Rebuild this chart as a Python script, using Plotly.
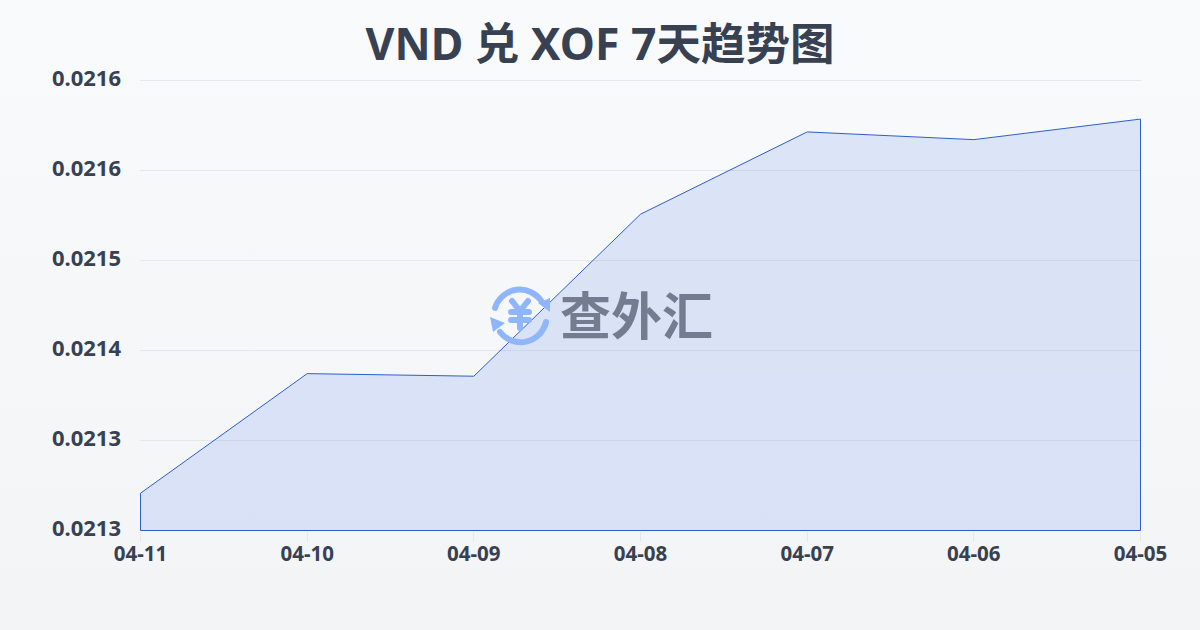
import base64
import plotly.graph_objects as go

dates = ["04-11", "04-10", "04-09", "04-08", "04-07", "04-06", "04-05"]
rates = [0.021309, 0.021402, 0.021400, 0.021526, 0.021590, 0.021584, 0.021600]
y_ticks = [0.02128, 0.02135, 0.02142, 0.02149, 0.02156, 0.02163]
y_labels = ["0.0213", "0.0213", "0.0214", "0.0215", "0.0216", "0.0216"]
title = "VND 兑 XOF 7天趋势图"
watermark = "查外汇"

W, H = 1200, 630
INK = "#374151"
BLUE = "#2b5fc7"
L, R, T, B = 140, 59, 80, 99
PW, PH = W - L - R, H - T - B
x_pad = (len(dates) - 1) / (2 * (PW - 1))
y_pad = (y_ticks[-1] - y_ticks[0]) / (2 * (PH - 1))


def px(x):
    return (x - L) / PW


def py(y):
    return (H - B - y) / PH


svg = f'''<svg xmlns="http://www.w3.org/2000/svg" width="{W}" height="{H}"><defs><linearGradient id="g" x1="0" y1="0" x2="0" y2="1"><stop offset="0" stop-color="#f9fafc"/><stop offset="1" stop-color="#f3f4f6"/></linearGradient></defs><rect width="{W}" height="{H}" fill="url(#g)"/></svg>'''
bg = "data:image/svg+xml;base64," + base64.b64encode(svg.encode()).decode()

logo = f'''<svg xmlns="http://www.w3.org/2000/svg" width="64" height="64" viewBox="0 0 64 64"><g fill="none" stroke="#8fb6fb" stroke-width="6" stroke-linecap="round"><path d="M7 25 A26 26 0 0 1 54 19"/><path d="M58 39 A26 26 0 0 1 12 49"/></g><g fill="#8fb6fb"><path d="M50 20 L62 15 L62 29 Z"/><path d="M2 34 L17 40 L5 49 Z"/></g><g fill="none" stroke="#8fb6fb" stroke-width="6" stroke-linecap="round"><path d="M24 18 L32 28 L40 18"/><path d="M23 29 H41"/><path d="M23 37 H41"/><path d="M32 28 V45"/></g></svg>'''
logo_uri = "data:image/svg+xml;base64," + base64.b64encode(logo.encode()).decode()

fig = go.Figure()
fig.add_trace(go.Scatter(
    x=dates + [dates[-1], dates[0], dates[0]],
    y=rates + [y_ticks[0], y_ticks[0], rates[0]],
    mode="lines", fill="toself", fillcolor="rgba(37,99,235,0.135)",
    line=dict(color=BLUE, width=1), hoverinfo="skip", showlegend=False, cliponaxis=False,
))
fig.add_hline(y=y_ticks[-1], line=dict(color="#e5e7eb", width=1), layer="below")
fig.update_layout(
    width=W, height=H,
    margin=dict(l=L, r=R, t=T, b=B),
    paper_bgcolor="#f6f7f9", plot_bgcolor="rgba(0,0,0,0)",
    font=dict(family="Noto Sans, Noto Sans CJK SC", color=INK),
    title=dict(text=f"<b>{title}</b>", x=0.5, xanchor="center", y=0.929, yanchor="middle",
               font=dict(size=44.5, family="Noto Sans, Noto Sans CJK SC", color=INK)),
    xaxis=dict(type="category", categoryorder="array", categoryarray=dates,
               range=[-x_pad, len(dates) - 1 + x_pad],
               showgrid=False, showline=False, zeroline=False, ticks="outside", ticklen=10,
               tickcolor="#e5e7eb", tickwidth=1, tickangle=0, ticklabelstandoff=-6,
               tickfont=dict(size=20.5, family="Noto Sans", color=INK, weight="bold")),
    yaxis=dict(range=[y_ticks[0] - y_pad, y_ticks[-1] + y_pad], tickvals=y_ticks, ticktext=y_labels,
               showgrid=True, gridcolor="#e5e7eb", gridwidth=1, zeroline=False, showline=False,
               ticks="", ticklabelstandoff=18, ticklabelshift=-2,
               tickfont=dict(size=22, family="Noto Sans", color=INK, weight="bold")),
    images=[
        dict(source=bg, xref="paper", yref="paper", x=px(0), y=py(0), sizex=W / PW, sizey=H / PH,
             xanchor="left", yanchor="top", sizing="stretch", layer="below"),
        dict(source=logo_uri, xref="paper", yref="paper", x=px(488), y=py(283), sizex=64 / PW, sizey=64 / PH,
             xanchor="left", yanchor="top", sizing="stretch", layer="above"),
    ],
    annotations=[dict(text=f"<b>{watermark}</b>", xref="paper", yref="paper",
                      x=px(636), y=py(313), xanchor="center", yanchor="middle", showarrow=False,
                      font=dict(size=51, family="Noto Sans CJK SC", color="rgba(75,85,105,0.72)"))],
)
fig.write_html("out.html", config=dict(displayModeBar=False),
               post_script="document.documentElement.style.margin='0';document.body.style.margin='0';document.body.style.overflow='hidden';")
